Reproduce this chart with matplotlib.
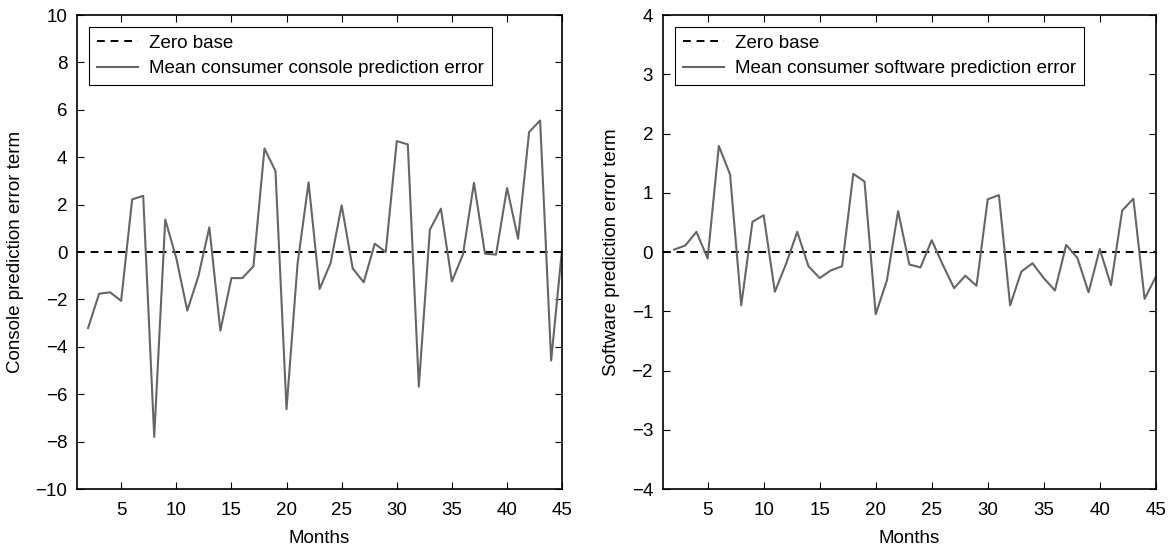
import matplotlib
matplotlib.use("Agg")
import matplotlib.pyplot as plt
import numpy as np

plt.rcParams['font.family'] = ['Liberation Sans', 'DejaVu Sans']
plt.rcParams['font.size'] = 13.5

# Monthly prediction errors
months = np.arange(2, 46)
console_err = [-3.21, -1.76, -1.70, -2.06, 2.22, 2.37, -7.80, 1.37, -0.25, -2.47,
               -1.03, 1.04, -3.32, -1.10, -1.10, -0.60, 4.37, 3.41, -6.63, -0.50,
               2.94, -1.56, -0.46, 1.97, -0.69, -1.28, 0.35, 0.00, 4.68, 4.54,
               -5.68, 0.94, 1.83, -1.24, -0.10, 2.92, -0.07, -0.11, 2.70, 0.56,
               5.06, 5.55, -4.58, 0.17]
software_err = [0.04, 0.11, 0.34, -0.11, 1.79, 1.31, -0.90, 0.51, 0.62, -0.67,
                -0.20, 0.34, -0.24, -0.44, -0.31, -0.24, 1.32, 1.19, -1.05, -0.48,
                0.69, -0.21, -0.26, 0.20, -0.22, -0.61, -0.40, -0.57, 0.89, 0.96,
                -0.90, -0.33, -0.19, -0.44, -0.65, 0.12, -0.10, -0.68, 0.05, -0.56,
                0.70, 0.90, -0.79, -0.42]

fig = plt.figure(figsize=(11.69, 5.54), dpi=100)
ax1 = fig.add_axes([0.0659, 0.1173, 0.415, 0.8556])
ax2 = fig.add_axes([0.567, 0.1173, 0.4217, 0.8556])

panels = [
    (ax1, console_err, 10, "Console prediction error term",
     "Mean consumer console prediction error"),
    (ax2, software_err, 4, "Software prediction error term",
     "Mean consumer software prediction error"),
]

for ax, vals, lim, ylab, lab in panels:
    ax.plot([1, 45], [0, 0], "k--", lw=1.4, dashes=(4, 3), label="Zero base")
    ax.plot(months, vals, color="#666666", lw=1.5, label=lab)
    ax.set_xlim(1, 45)
    ax.set_ylim(-lim, lim)
    ax.set_xticks(np.arange(5, 46, 5))
    ax.set_yticks(np.arange(-lim, lim + 1, 2 if lim == 10 else 1))
    ax.tick_params(direction="in", top=True, right=True, length=5, labelsize=13.5)
    ax.tick_params(axis="x", pad=9)
    ax.tick_params(axis="y", pad=7)
    for s in ax.spines.values():
        s.set_linewidth(1.2)
    ax.set_xlabel("Months", fontsize=13.5, labelpad=8)
    ax.set_ylabel(ylab, fontsize=13.5, labelpad=8)
    leg = ax.legend(loc="upper left", fancybox=False, framealpha=1,
                    edgecolor="black", fontsize=13.5, borderaxespad=0.65,
                    handlelength=2.2, handletextpad=0.6, borderpad=0.4,
                    labelspacing=0.45)
    leg.get_frame().set_linewidth(0.8)

fig.savefig("out.png", dpi=100)
